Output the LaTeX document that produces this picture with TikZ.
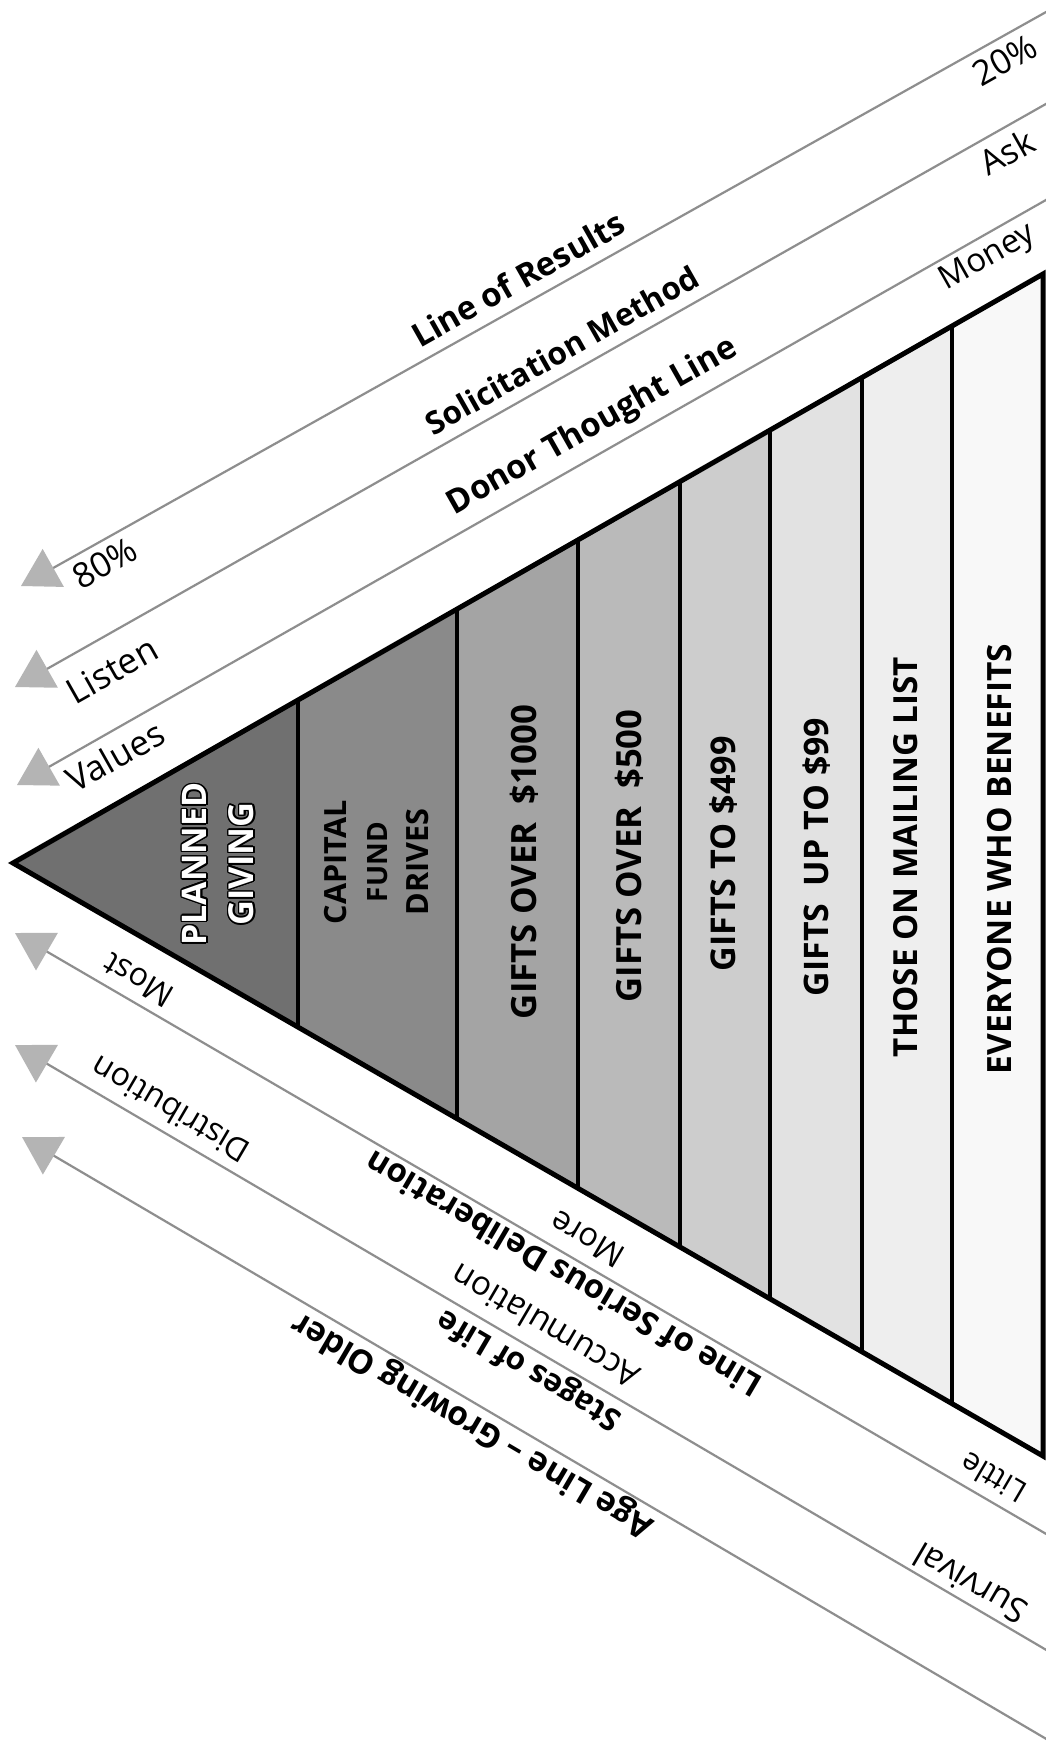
\documentclass[tikz,border=0pt]{standalone}
\usepackage{fontspec}
\setmainfont{Open Sans}
\usepackage{contour}
\contourlength{1.5pt}
\usetikzlibrary{arrows.meta,calc}
\newcommand{\fitw}[2]{\resizebox{#1}{!}{#2}}
\definecolor{guidegray}{RGB}{142,142,142}
\definecolor{headgray}{RGB}{180,180,180}
\definecolor{bandA}{RGB}{112,112,112}
\definecolor{bandB}{RGB}{138,138,138}
\definecolor{bandC}{RGB}{164,164,164}
\definecolor{bandD}{RGB}{186,186,186}
\definecolor{bandE}{RGB}{205,205,205}
\definecolor{bandF}{RGB}{226,226,226}
\definecolor{bandG}{RGB}{238,238,238}
\definecolor{bandH}{RGB}{248,248,248}
\begin{document}
\begin{tikzpicture}[x=1pt,y=-1pt,
  guide/.style={draw=guidegray,line width=2.2pt,
    -{Triangle[length=37pt,width=43pt,color=headgray,fill=headgray]}},
  uplabel/.style={rotate=29.5,inner sep=0pt},
  downlabel/.style={rotate=149.6,inner sep=0pt},
  bandlabel/.style={rotate=90,inner sep=0pt,font=\bfseries},
  divider/.style={draw=black,line width=4pt},
  outline/.style={draw=black,line width=5pt,line join=miter,miter limit=20},
]
\fill[white] (0,0) rectangle (1046,1741);
\clip (0,0) rectangle (1046,1741);
% triangle corners
\coordinate (A) at (13,863);
\coordinate (T) at (1043,274);
\coordinate (B) at (1043,1456);
% divider positions along the edges
\foreach \i/\t in {1/0.2767,2/0.4311,3/0.5485,4/0.6476,5/0.7350,6/0.8243,7/0.9117}{
  \coordinate (u\i) at ($(A)!\t!(T)$);
  \coordinate (d\i) at ($(A)!\t!(B)$);
}
% band fills
\fill[bandA] (A) -- (u1) -- (d1) -- cycle;
\fill[bandB] (u1) -- (u2) -- (d2) -- (d1) -- cycle;
\fill[bandC] (u2) -- (u3) -- (d3) -- (d2) -- cycle;
\fill[bandD] (u3) -- (u4) -- (d4) -- (d3) -- cycle;
\fill[bandE] (u4) -- (u5) -- (d5) -- (d4) -- cycle;
\fill[bandF] (u5) -- (u6) -- (d6) -- (d5) -- cycle;
\fill[bandG] (u6) -- (u7) -- (d7) -- (d6) -- cycle;
\fill[bandH] (u7) -- (T) -- (B) -- (d7) -- cycle;
\foreach \i in {1,...,7}{\draw[divider] (u\i) -- (d\i);}
\draw[outline] (A) -- (T) -- (B) -- cycle;
% guide lines (arrows)
\coordinate (r1) at (1060,4.2);   \coordinate (l1) at (21,586);
\coordinate (r2) at (1060,96);    \coordinate (l2) at (15,687);
\coordinate (r3) at (1060,192);   \coordinate (l3) at (17,785);
\coordinate (ra) at (1060,1542);  \coordinate (la) at (15,933);
\coordinate (rb) at (1060,1658);  \coordinate (lb) at (15,1045);
\coordinate (rc) at (1060,1747);  \coordinate (lc) at (22,1137);
\draw[guide] (r1) -- (l1);
\draw[guide] (r2) -- (l2);
\draw[guide] (r3) -- (l3);
\draw[guide] (ra) -- (la);
\draw[guide] (rb) -- (lb);
\draw[guide] (rc) -- (lc);
% upper labels
\node[uplabel] (results) at (518,279) {\fitw{239pt}{\bfseries Line of Results}};
\node[uplabel] (method) at (562,350) {\fitw{308pt}{\bfseries Solicitation Method}};
\node[uplabel] (thought) at (593,427) {\fitw{327pt}{\bfseries Donor Thought Line}};
\node[uplabel] (p20) at (1005,60) {\fitw{68pt}{20\%}};
\node[uplabel] (ask) at (1007,152) {\fitw{56pt}{Ask}};
\node[uplabel] (money) at (988,258) {\fitw{104pt}{Money}};
\node[uplabel] (p80) at (105,563) {\fitw{68pt}{80\%}};
\node[uplabel] (listen) at (112,670) {\fitw{98pt}{Listen}};
\node[uplabel] (values) at (115,756) {\fitw{106pt}{Values}};
% lower labels
\node[downlabel] (most) at (138,980) {\fitw{75pt}{Most}};
\node[downlabel] (distribution) at (170,1110) {\fitw{178pt}{Distribution}};
\node[downlabel] (more) at (587,1239) {\fitw{80pt}{More}};
\node[downlabel] (accumulation) at (545,1327) {\fitw{212pt}{Accumulation}};
\node[downlabel] (little) at (993,1478) {\fitw{70pt}{Little}};
\node[downlabel] (survival) at (970,1584) {\fitw{125pt}{Survival}};
\node[downlabel] (serious) at (563,1275) {\fitw{453pt}{\bfseries Line of Serious Deliberation}};
\node[downlabel] (stages) at (530,1369) {\fitw{207pt}{\bfseries Stages of Life}};
\node[downlabel] (age) at (473,1424) {\fitw{413pt}{\bfseries Age Line -- Growing Older}};
% band labels
\node[bandlabel,text=white,align=center,font=\bfseries\fontsize{34}{47}\selectfont]
  (planned) at (219,864) {\fitw{163pt}{\contour{black}{PLANNED}}\\\fitw{123pt}{\contour{black}{GIVING}}};
\node[bandlabel,align=center,font=\bfseries\fontsize{29}{41}\selectfont]
  (capital) at (377,862) {\fitw{124pt}{CAPITAL}\\\fitw{80pt}{FUND}\\\fitw{107pt}{DRIVES}};
\node[bandlabel] (over1000) at (524,862) {\fitw{314pt}{GIFTS OVER~ \$1000}};
\node[bandlabel] (over500) at (629,856) {\fitw{293pt}{GIFTS OVER~ \$500}};
\node[bandlabel] (to499) at (724,854) {\fitw{235pt}{GIFTS TO \$499}};
\node[bandlabel] (upto99) at (817,857) {\fitw{278pt}{GIFTS~ UP TO \$99}};
\node[bandlabel] (mailing) at (906,857) {\fitw{400pt}{THOSE ON MAILING LIST}};
\node[bandlabel] (everyone) at (1000,859) {\fitw{430pt}{EVERYONE WHO BENEFITS}};
\end{tikzpicture}
\end{document}
